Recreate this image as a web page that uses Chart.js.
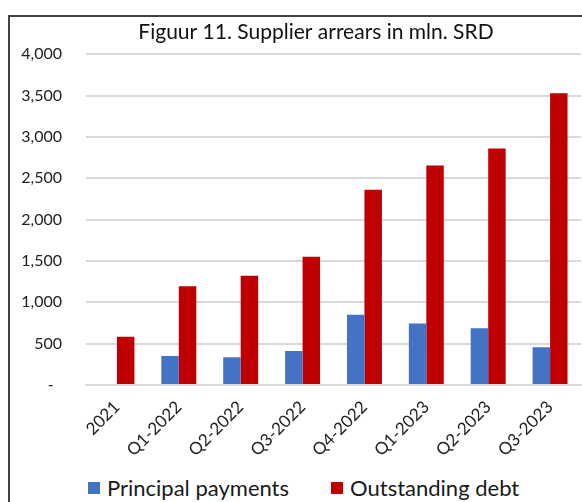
<!DOCTYPE html>
<html>
<head>
<meta charset="utf-8">
<script src="https://cdn.jsdelivr.net/npm/chart.js@4/dist/chart.umd.min.js"></script>
<style>
  html, body { margin: 0; padding: 0; background: #fff; overflow: hidden; }
  #frame {
    position: absolute; left: 8px; top: 15px; width: 640px; height: 520px;
    border-left: 2px solid #44443c; border-top: 2px solid #44443c;
  }
  #wrap { position: absolute; left: 10px; top: 17px; width: 612px; height: 450px; }
  #legend {
    position: absolute; top: 474px; left: 88px; display: flex;
    font-family: Lato, sans-serif; font-size: 22px; color: #1a1a1a;
  }
  #legend span.item { display: flex; align-items: center; }
  #legend span.box { display: inline-block; width: 12px; height: 12px; margin-right: 7px; }
</style>
</head>
<body>
<div id="frame"></div>
<div id="wrap"><canvas id="chart"></canvas></div>
<div id="legend"></div>
<script>
const categories = ['2021', 'Q1-2022', 'Q2-2022', 'Q3-2022', 'Q4-2022', 'Q1-2023', 'Q2-2023', 'Q3-2023'];
const principalPayments = [0, 350, 335, 412, 848, 743, 687, 457];
const outstandingDebt = [582, 1195, 1320, 1550, 2360, 2655, 2860, 3527];
const seriesNames = ['Principal payments', 'Outstanding debt'];
const seriesColors = ['#4472C4', '#C00000'];

const chart = new Chart(document.getElementById('chart'), {
  type: 'bar',
  data: {
    labels: categories,
    datasets: [
      { label: seriesNames[0], data: principalPayments, backgroundColor: seriesColors[0] },
      { label: seriesNames[1], data: outstandingDebt, backgroundColor: seriesColors[1] }
    ]
  },
  options: {
    responsive: true,
    maintainAspectRatio: false,
    animation: false,
    layout: { padding: 0 },
    datasets: { bar: { categoryPercentage: 0.565, barPercentage: 1 } },
    plugins: {
      legend: { display: false },
      tooltip: { enabled: false },
      title: {
        display: true,
        text: 'Figuur 11. Supplier arrears in mln. SRD',
        color: '#111',
        font: { family: 'Lato, sans-serif', size: 21, weight: 'normal' },
        padding: { top: 3, bottom: 9 }
      }
    },
    scales: {
      x: {
        grid: { display: false },
        border: { display: true, color: '#d9d9d9', width: 2 },
        ticks: { color: '#222', font: { family: 'Lato, sans-serif', size: 17 }, minRotation: 45, maxRotation: 45, autoSkip: false, padding: 4 },
        afterFit: (scale) => { scale.height = 82; }
      },
      y: {
        min: 0, max: 4000,
        ticks: {
          stepSize: 500, color: '#222', font: { family: 'Lato, sans-serif', size: 16 }, padding: 24,
          callback: (v) => v === 0 ? '-  ' : v.toLocaleString('en-US')
        },
        grid: { color: '#d9d9d9', lineWidth: 2, drawTicks: false },
        border: { display: false },
        afterFit: (scale) => { scale.width = 76; }
      },
      // empty right-hand axis: keeps space on the right without shifting the title
      yRight: {
        position: 'right',
        min: 0, max: 4000,
        grid: { display: false },
        border: { display: false },
        ticks: { display: false },
        afterFit: (scale) => { scale.width = 41; }
      }
    }
  }
});

// legend with wide gap between the two items
const legend = document.getElementById('legend');
chart.data.datasets.forEach((ds, i) => {
  const item = document.createElement('span');
  item.className = 'item';
  if (i > 0) item.style.marginLeft = '42px';
  item.innerHTML = '<span class="box" style="background:' + ds.backgroundColor + '"></span>' + ds.label;
  legend.appendChild(item);
});
</script>
</body>
</html>
